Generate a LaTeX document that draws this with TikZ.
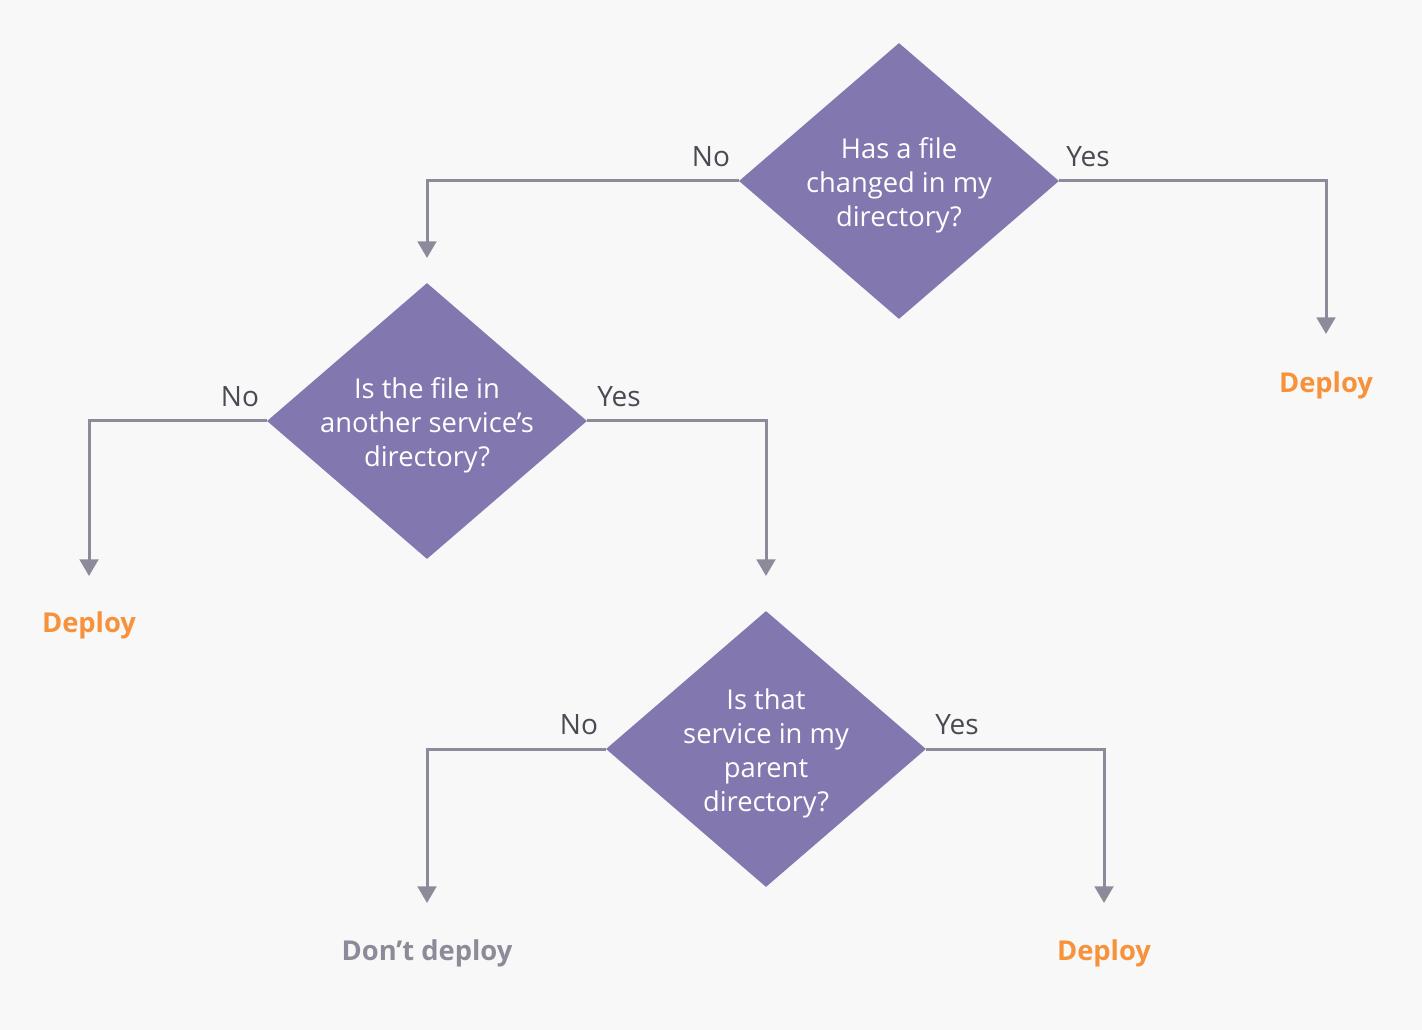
\documentclass[tikz,border=0pt]{standalone}
\usepackage{fontspec}
\setmainfont{Open Sans}
\usetikzlibrary{shapes.geometric,arrows.meta}
\definecolor{bgc}{HTML}{F8F8F8}
\definecolor{dia}{HTML}{8278AF}
\definecolor{lnc}{HTML}{8E8A9A}
\definecolor{lbl}{HTML}{4A4A55}
\definecolor{org}{HTML}{F7923A}
\tikzset{
  dec/.style={diamond, fill=dia, minimum width=320*0.75pt, minimum height=276*0.75pt, inner sep=0pt},
  dectext/.style={text=white, font=\fontsize{20.5}{25.5}\selectfont, align=center, inner sep=0pt},
  conn/.style={draw=lnc, line width=2.25pt, -{Triangle[width=14pt,length=12.5pt]}},
  ans/.style={text=lbl, font=\fontsize{21}{24}\selectfont},
  go/.style={text=org, font=\fontsize{20.5}{24}\selectfont\bfseries},
  nogo/.style={text=lnc, font=\fontsize{20.5}{24}\selectfont\bfseries},
}
\begin{document}
\begin{tikzpicture}[x=0.75pt,y=-0.75pt]
\fill[bgc] (0,0) rectangle (1422,1030);
\useasboundingbox (0,0) rectangle (1422,1030);
\node[dec] (d1) at (899,181) {};
\node[dec] (d2) at (427,421) {};
\node[dec] (d3) at (766,749) {};
\node[dectext] (d1t) at ([yshift=-3pt]d1.center) {Has a file\\changed in my\\directory?};
\node[dectext] (d2t) at ([yshift=-3pt]d2.center) {Is the file in\\another service’s\\directory?};
\node[dectext] (d3t) at ([yshift=-3pt]d3.center) {Is that\\service in my\\parent\\directory?};
\coordinate (e1) at (427,258);
\coordinate (e2) at (1326,334);
\coordinate (e3) at (89,576);
\coordinate (e4) at (766,576);
\coordinate (e5) at (427,903);
\coordinate (e6) at (1104,903);
\draw[conn] (d1.west) -| (e1);
\draw[conn] (d1.east) -| (e2);
\draw[conn] (d2.west) -| (e3);
\draw[conn] (d2.east) -| (e4);
\draw[conn] (d3.west) -| (e5);
\draw[conn] (d3.east) -| (e6);
\node[ans] (n1) at (711,157) {No};
\node[ans] (y1) at (1088,157) {Yes};
\node[ans] (n2) at (240,397) {No};
\node[ans] (y2) at (619,397) {Yes};
\node[ans] (n3) at (579,725) {No};
\node[ans] (y3) at (957,725) {Yes};
\node[go] (t1) at (1326,385) {Deploy};
\node[go] (t2) at (89,625) {Deploy};
\node[nogo] (t3) at (427,953) {Don’t deploy};
\node[go] (t4) at (1104,953) {Deploy};
\end{tikzpicture}
\end{document}
